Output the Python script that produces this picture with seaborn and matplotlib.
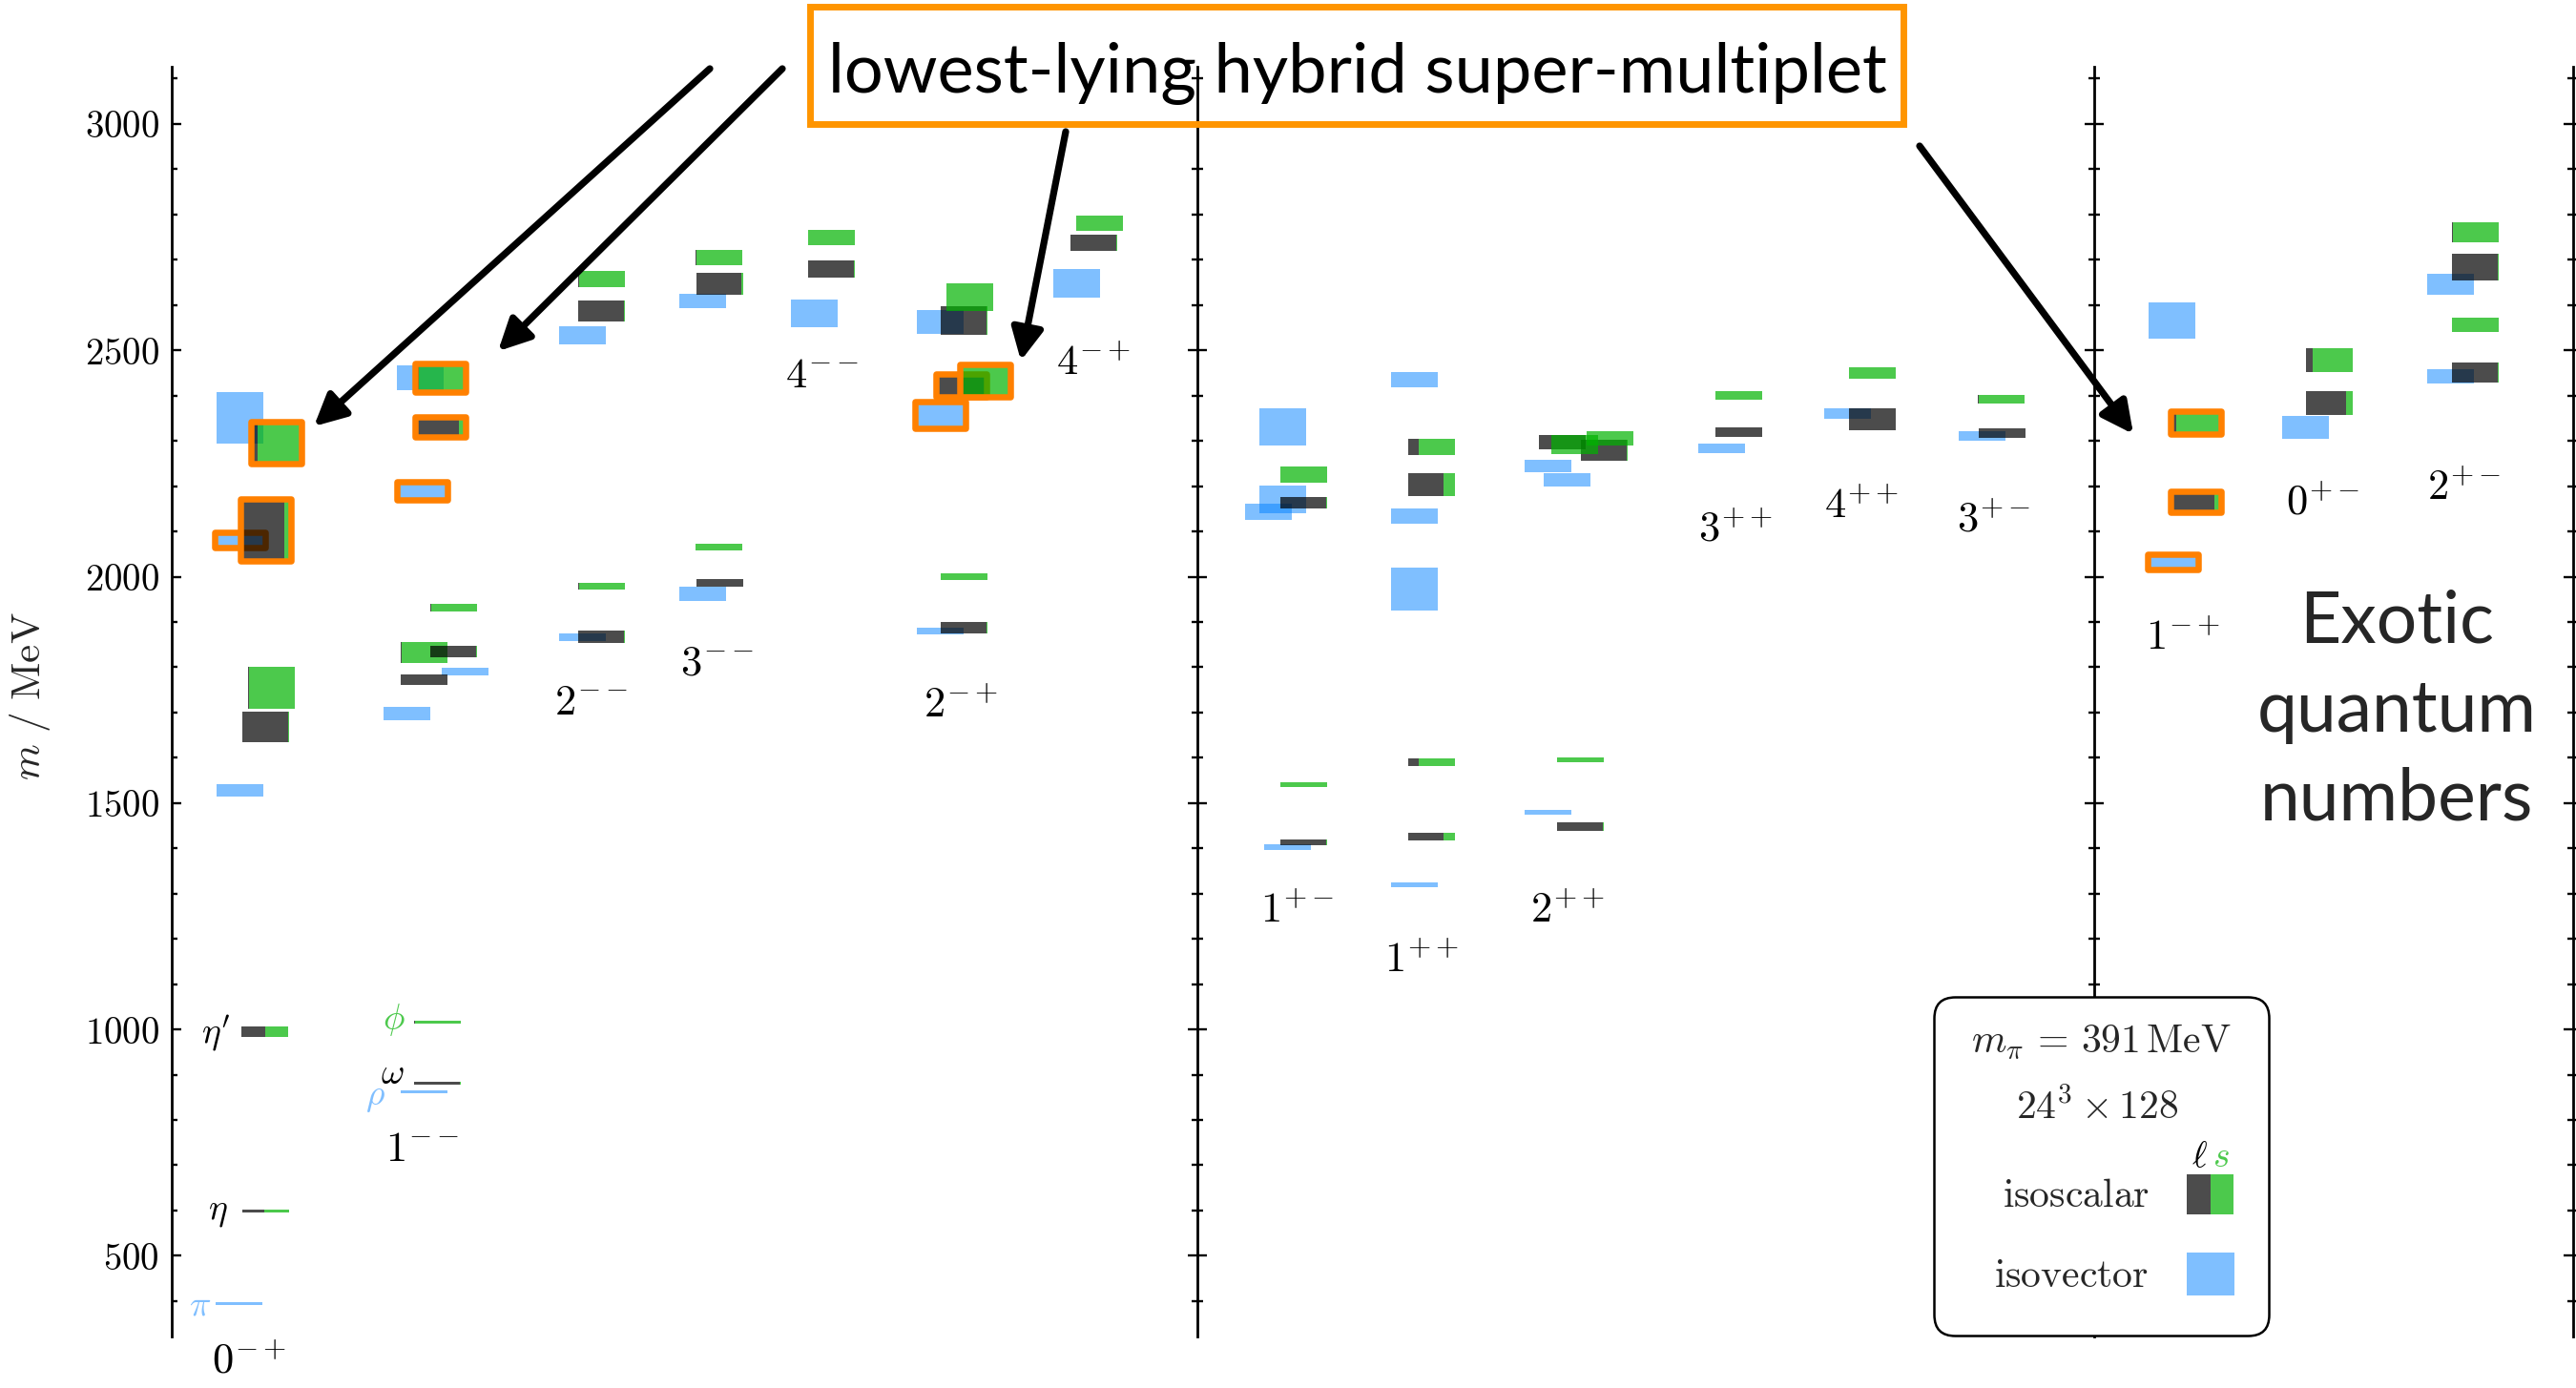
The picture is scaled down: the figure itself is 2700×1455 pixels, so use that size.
import matplotlib
matplotlib.use("Agg")
import numpy as np
import matplotlib.pyplot as plt
import seaborn as sns
from matplotlib.patches import Rectangle, FancyBboxPatch
from matplotlib.ticker import MultipleLocator, FuncFormatter

# ======================= DATA =======================
panel_left = ["0-+", "1--", "2--", "3--", "4--", "2-+", "4-+"]
panel_mid = ["1+-", "1++", "2++", "3++", "4++", "3+-"]
panel_right = ["1-+", "0+-", "2+-"]

# one entry per state, grouped by J^PC column (v = isovector, s = isoscalar)
state_jpc = (["0-+"] * 10 + ["1--"] * 13 + ["2--"] * 6 + ["3--"] * 6 + ["4--"] * 3 +
             ["2-+"] * 9 + ["4-+"] * 3 + ["1+-"] * 8 + ["1++"] * 8 + ["2++"] * 9 +
             ["3++"] * 3 + ["4++"] * 3 + ["3+-"] * 3 + ["1-+"] * 4 + ["0+-"] * 3 + ["2+-"] * 6)
state_kind = ("vvvvssssss" + "vvvvvssssssss" + "vvssss" + "vvssss" + "vss" +
              "vvvssssss" + "vss" + "vvvvssss" + "vvvvssss" + "vvvssssss" +
              "vss" + "vss" + "vss" + "vvss" + "vss" + "vvssss")
state_mass = [395, 1528, 2081, 2351, 599, 995, 1668, 2103, 1755, 2296,
              862, 1698, 1790, 2190, 2439, 881, 1772, 1016, 1832, 1835, 2331, 1932, 2439,
              1866, 2534, 1867, 2586, 1979, 2658,
              1962, 2609, 1986, 2647, 2066, 2704,
              2582, 2679, 2749,
              1880, 2357, 2563, 1887, 2423, 2566, 2000, 2433, 2617,
              2648, 2737, 2780,
              1402, 2331, 2171, 2143, 1413, 2163, 1541, 2226,
              1320, 1973, 2134, 2435, 1426, 2204, 1590, 2287,
              1480, 2245, 2214, 1448, 2297, 2279, 1595, 2292, 2305,
              2283, 2319, 2400,
              2360, 2348, 2450,
              2311, 2317, 2392,
              2032, 2565, 2165, 2341,
              2329, 2383, 2479,
              2443, 2646, 2451, 2684, 2556, 2760]
state_err = [3, 13, 12, 57, 3, 12, 34, 65, 46, 42,
             3, 15, 9, 16, 28, 3, 11, 3, 23, 12, 18, 9, 28,
             8, 20, 13, 23, 8, 18,
             16, 15, 9, 24, 7, 17,
             31, 19, 17,
             8, 25, 26, 12, 21, 31, 7, 31, 31,
             31, 18, 17,
             6, 41, 30, 18, 7, 13, 5, 18,
             5, 47, 16, 17, 8, 25, 9, 18,
             5, 14, 15, 10, 16, 23, 5, 21, 16,
             11, 11, 10,
             12, 24, 12,
             11, 11, 10,
             13, 40, 19, 21,
             25, 26, 26,
             16, 24, 22, 29, 16, 22]
nan = np.nan
# light-quark (ell) fraction of isoscalar states; rest is strange (s)
state_light = [nan, nan, nan, nan, .46, .52, .97, .89, .03, .10,
               nan, nan, nan, nan, nan, .98, .99, .02, .02, .98, .90, .02, .05,
               nan, nan, .98, .98, .02, .03,
               nan, nan, .99, .96, 0.0, .03,
               nan, .98, 0.0,
               nan, nan, nan, .98, 1.0, .98, 0.0, 0.0, 0.0,
               nan, .98, 0.0,
               nan, nan, nan, nan, .98, .98, 0.0, 0.0,
               nan, nan, nan, nan, .75, .75, .22, .22,
               nan, nan, nan, .98, 1.0, .97, 0.0, 0.0, 0.0,
               nan, .99, 0.0,
               nan, 1.0, .01,
               nan, .99, .02,
               nan, nan, .90, .08,
               nan, .86, .15,
               nan, nan, .98, .98, 0.0, .03]
state_hybrid = [0, 0, 1, 0, 0, 0, 0, 1, 0, 1,
                0, 0, 0, 1, 0, 0, 0, 0, 0, 0, 1, 0, 1,
                0, 0, 0, 0, 0, 0,
                0, 0, 0, 0, 0, 0,
                0, 0, 0,
                0, 1, 0, 0, 1, 0, 0, 1, 0,
                0, 0, 0,
                0, 0, 0, 0, 0, 0, 0, 0,
                0, 0, 0, 0, 0, 0, 0, 0,
                0, 0, 0, 0, 0, 0, 0, 0, 0,
                0, 0, 0,
                0, 0, 0,
                0, 0, 0,
                1, 0, 1, 1,
                0, 0, 0,
                0, 0, 0, 0, 0, 0]

particle_labels = [r"$\pi$", r"$\eta$", r"$\eta'$", r"$\phi$", r"$\omega$", r"$\rho$"]

# ======================= LAYOUT =======================
# left edge of each state's box inside its panel (pixel-like panel units)
state_x = [46, 47, 47, 47, 74, 73, 74, 74, 80, 85,
           240, 222, 283, 238, 236, 254, 240, 254, 240, 271, 257, 271, 257,
           406, 406, 426, 426, 426, 426,
           532, 532, 550, 550, 549, 549,
           649, 667, 667,
           781, 781, 781, 806, 803, 806, 806, 828, 812,
           924, 942, 948,
           70, 65, 65, 50, 87, 87, 87, 87,
           203, 203, 203, 203, 221, 221, 221, 221,
           343, 343, 363, 377, 358, 402, 377, 371, 408,
           525, 543, 543,
           657, 683, 683,
           798, 819, 818,
           58, 57, 82, 82,
           197, 222, 222,
           349, 349, 375, 375, 375, 375]
label_pos = {"0-+": (81, 268), "1--": (263, 735), "2--": (440, 1721), "3--": (572, 1810),
             "4--": (682, 2445), "2-+": (827, 1716), "4-+": (966, 2473),
             "1+-": (105, 1262), "1++": (235, 1154), "2++": (388, 1262),
             "3++": (564, 2104), "4++": (696, 2155), "3+-": (835, 2125),
             "1-+": (93, 1866), "0+-": (240, 2164), "2+-": (388, 2197)}
particle_pos = [(41, 393), (59, 597), (61, 990), (245, 1022), (244, 904), (224, 851)]

BLUE = (0.0, 0.5, 1.0)
GREEN = (0.0, 0.7, 0.0)
ORANGE = "#FF8000"
TITLE_ORANGE = "#FF9500"
BLUE_TXT = "#80BFFF"
GREEN_TXT = "#4DC94D"
particle_colors = [BLUE_TXT, "black", "black", GREEN_TXT, "black", BLUE_TXT]
BOX_W = 49

# ======================= STYLE =======================
sns.set_theme(style="ticks")
plt.rcParams["font.family"] = ["Lato", "DejaVu Sans"]
plt.rcParams["mathtext.fontset"] = "cm"
plt.rcParams["axes.edgecolor"] = "black"
plt.rcParams["ytick.color"] = "black"
plt.rcParams["axes.linewidth"] = 2.0

FW, FH = 2700, 1455
AX_TOP, AX_BOT = 70.1, 1400.9
YLIM = (322, 3126)
edges = [180, 1255, 2195, 2697]

fig = plt.figure(figsize=(FW / 100, FH / 100), dpi=100)
axes = []
for k in range(3):
    l, r = edges[k], edges[k + 1]
    ax = fig.add_axes([l / FW, 1 - AX_BOT / FH, (r - l) / FW, (AX_BOT - AX_TOP) / FH])
    ax.set_xlim(0, r - l)
    ax.set_ylim(*YLIM)
    ax.patch.set_visible(False)
    ax.set_xticks([])
    ax.yaxis.set_major_locator(MultipleLocator(500))
    ax.yaxis.set_minor_locator(MultipleLocator(100))
    sns.despine(ax=ax, top=True, bottom=True, left=False, right=(k < 2))
    axes.append(ax)

axes[0].tick_params(axis="y", which="major", direction="in", length=7.2, width=1.7,
                    labelsize=28, pad=9.4, left=True, right=False)
axes[0].tick_params(axis="y", which="minor", direction="in", length=4.3, width=1.7,
                    left=True, right=False)
axes[0].yaxis.set_major_formatter(FuncFormatter(lambda v, p: f"${int(v)}$"))
for k in (1, 2):
    axes[k].tick_params(axis="y", which="major", direction="inout", length=15, width=1.7,
                        left=True, right=(k == 2), labelleft=False, labelright=False)
    axes[k].tick_params(axis="y", which="minor", direction="inout", length=8.6, width=1.7,
                        left=True, right=(k == 2))

panel_of = {}
for k, names in enumerate([panel_left, panel_mid, panel_right]):
    for n in names:
        panel_of[n] = k

# ======================= STATES =======================
for i in range(len(state_mass)):
    ax = axes[panel_of[state_jpc[i]]]
    x0, m, e = state_x[i], state_mass[i], state_err[i]
    if state_kind[i] == "v":
        ax.bar(x0, 2 * e, width=BOX_W, bottom=m - e, align="edge",
               color=BLUE, alpha=0.5, linewidth=0)
    else:
        f = state_light[i]
        if f > 0:
            ax.bar(x0, 2 * e, width=BOX_W * f, bottom=m - e, align="edge",
                   color="black", alpha=0.7, linewidth=0)
        if f < 1:
            ax.bar(x0 + BOX_W * f, 2 * e, width=BOX_W * (1 - f), bottom=m - e, align="edge",
                   color=GREEN, alpha=0.7, linewidth=0)
    if state_hybrid[i]:
        bars = ax.bar(x0 - 2, 2 * e + 8.4, width=BOX_W + 4, bottom=m - e - 4.2, align="edge",
                      fill=False, edgecolor=ORANGE, linewidth=4.7)
        for p in bars:
            p.set_joinstyle("round")

# J^PC labels
for name, (lx, ly) in label_pos.items():
    ax = axes[panel_of[name]]
    txt = "$" + name[0] + "^{" + name[1:] + "}$"
    ax.text(lx, ly, txt, ha="center", va="center", fontsize=32, color="black")

# particle names
for lab, (px, py), c in zip(particle_labels, particle_pos, particle_colors):
    axes[0].text(px, py, lab, ha="right", va="center", fontsize=27, color=c)

# y label
fig.text(32 / FW, 1 - 730 / FH, r"$m\ /\ \mathrm{MeV}$", rotation=90,
         ha="center", va="center", fontsize=31)

# ======================= TITLE + ARROWS =======================
fig.add_artist(Rectangle((848.5 / FW, 1 - 129.5 / FH), 1147 / FW, 122 / FH,
                         transform=fig.transFigure, fill=False, ec=TITLE_ORANGE, lw=5.0))
fig.text(1423 / FW, 1 - 97 / FH, "lowest-lying hybrid super-multiplet",
         ha="center", va="baseline", fontsize=52, color="black")

arrow_kw = dict(arrowstyle="-|>,head_length=20,head_width=10", mutation_scale=1,
                lw=5.2, color="black", shrinkA=0, shrinkB=0)
arrows = [(0, (149, 2332), (744, 72)), (0, (342, 2498), (820, 72)),
          (0, (890, 2477), (1117, 138)), (2, (41, 2315), (2012, 153))]
for k, tip, start in arrows:
    axes[k].annotate("", xy=tip, xycoords="data", xytext=(start[0], FH - start[1]),
                     textcoords="figure pixels", arrowprops=arrow_kw,
                     annotation_clip=False)

for word, base in zip(["Exotic", "quantum", "numbers"], [673, 767, 860]):
    fig.text(2512 / FW, 1 - base / FH, word, ha="center", va="baseline", fontsize=54)

# ======================= LEGEND BOX =======================
lax = fig.add_axes([2026 / FW, 1 - 1402 / FH, 354 / FW, 358 / FH], zorder=10)
lax.set_xlim(0, 354)
lax.set_ylim(358, 0)
lax.axis("off")
lax.add_patch(FancyBboxPatch((1.5, 1.5), 351, 355, boxstyle="round,pad=0,rounding_size=22",
                             fc="white", ec="black", lw=1.8, clip_on=False))
lax.text(176, 48, r"$m_\pi\, =\, 391\,\mathrm{MeV}$", ha="center", va="center", fontsize=30)
lax.text(172, 116, r"$24^3\times 128$", ha="center", va="center", fontsize=30)
lax.text(279, 168, r"$\ell$", ha="center", va="center", fontsize=27, color="black")
lax.text(302, 168, r"$s$", ha="center", va="center", fontsize=27, color=GREEN_TXT)
lax.text(227, 209, r"$\mathrm{isoscalar}$", ha="right", va="center", fontsize=30)
lax.text(226, 293, r"$\mathrm{isovector}$", ha="right", va="center", fontsize=30)
lax.add_patch(Rectangle((266, 187), 25, 42, color="black", alpha=0.7, lw=0))
lax.add_patch(Rectangle((291, 187), 24, 42, color=GREEN, alpha=0.7, lw=0))
lax.add_patch(Rectangle((266, 269), 50, 45, color=BLUE, alpha=0.5, lw=0))

fig.savefig("out.png", dpi=100)
